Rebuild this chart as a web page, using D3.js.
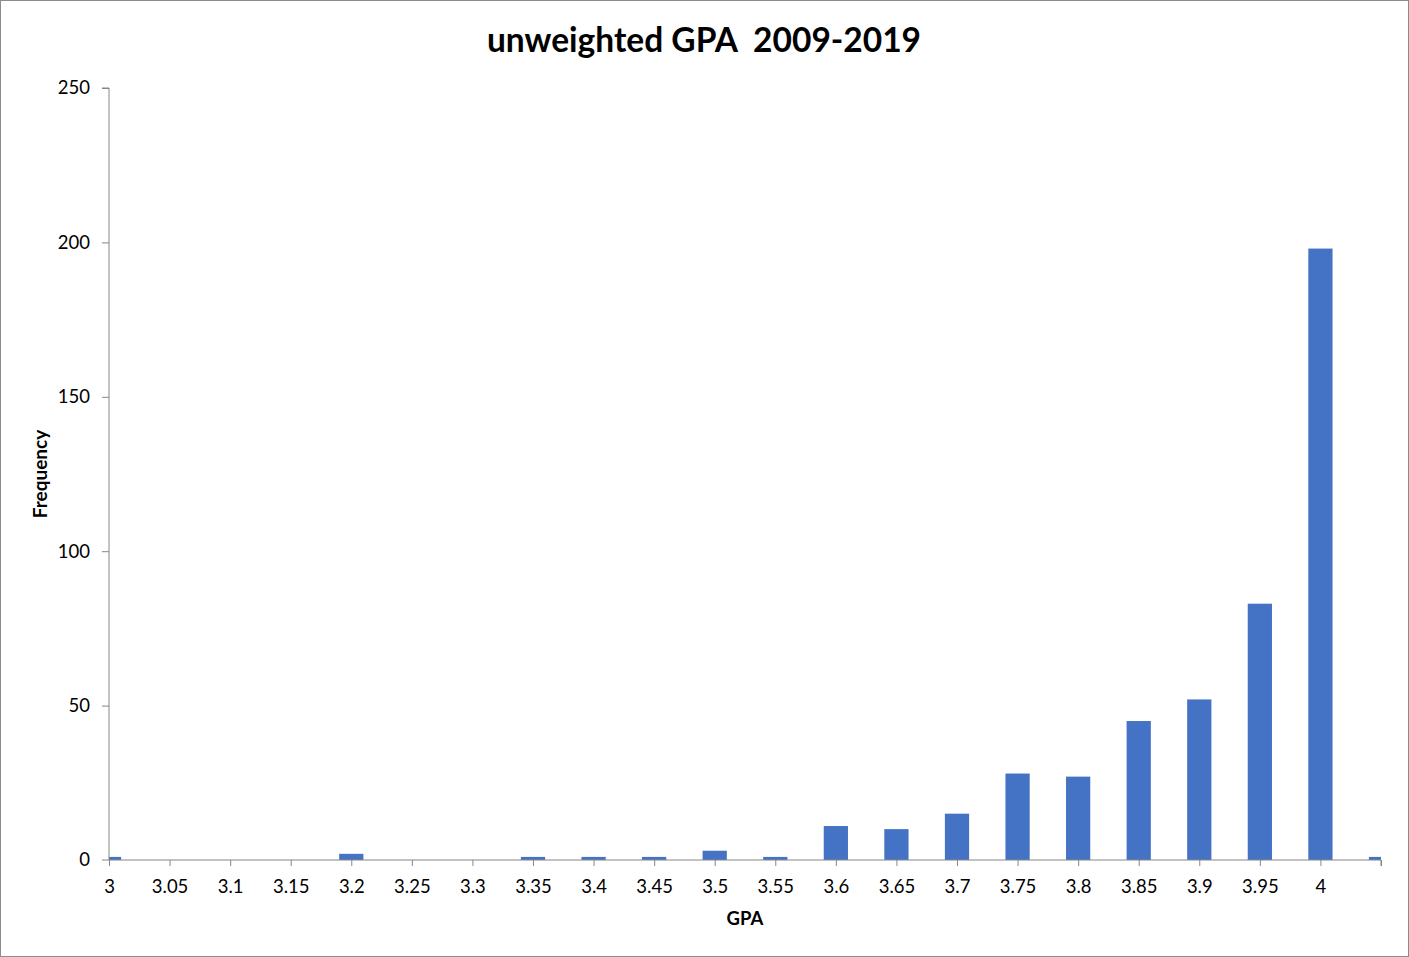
<!DOCTYPE html>
<html><head><meta charset="utf-8">
<script src="https://cdn.jsdelivr.net/npm/d3@7"></script>
<style>body{margin:0;background:#fff}svg{display:block}text{font-family:Lato,"Open Sans",sans-serif}</style>
</head><body><svg id="c" width="1409" height="957"></svg>
<script>
const categories = ["3","3.05","3.1","3.15","3.2","3.25","3.3","3.35","3.4","3.45","3.5","3.55","3.6","3.65","3.7","3.75","3.8","3.85","3.9","3.95","4","More"];
const tickLabels = ["3","3.05","3.1","3.15","3.2","3.25","3.3","3.35","3.4","3.45","3.5","3.55","3.6","3.65","3.7","3.75","3.8","3.85","3.9","3.95","4",""];
const frequency = [1,0,0,0,2,0,0,1,1,1,3,1,11,10,15,28,27,45,52,83,198,1];
const yTicks = [0,50,100,150,200,250];

const svg = d3.select("#c");
const W=1409,H=957;
svg.append("rect").attr("x",0.5).attr("y",0.5).attr("width",W-1).attr("height",H-1).attr("fill","#fff").attr("stroke","#8c8c8c");

const L=109,R=1381,T=88,B=860;
const x = d3.scalePoint().domain(categories).range([L,R]);
const y = d3.scaleLinear().domain([0,250]).range([B,T]);
const bw = x.step()*0.4;

svg.append("clipPath").attr("id","pc").append("rect").attr("x",L).attr("y",T-5).attr("width",R-L).attr("height",B-T+5);

svg.append("g").attr("clip-path","url(#pc)").selectAll("rect").data(categories).join("rect")
  .attr("x",d=>x(d)-bw/2).attr("width",bw)
  .attr("y",(d,i)=>y(frequency[i])).attr("height",(d,i)=>B-y(frequency[i]))
  .attr("fill","#4472c4");

// y axis
const ya = svg.append("g").attr("transform",`translate(${L},0)`)
  .call(d3.axisLeft(y).tickValues(yTicks).tickSize(7).tickPadding(12));
ya.select(".domain").attr("stroke","#868686").attr("d",`M-7,${T}H0V${B}`);
ya.selectAll(".tick line").attr("stroke","#868686");
ya.selectAll(".tick text").attr("font-size",18.5).attr("fill","#000").attr("font-family","Lato,sans-serif");
ya.selectAll(".tick").filter(d=>d===0).select("line").remove();

// x axis
const xa = svg.append("g").attr("transform",`translate(0,${B})`)
  .call(d3.axisBottom(x).tickFormat((d,i)=>tickLabels[i]).tickSize(6).tickPadding(14));
xa.select(".domain").attr("stroke","#868686").attr("d",`M${L-7},0H${R}V6`);
xa.selectAll(".tick line").attr("stroke","#868686");
xa.selectAll(".tick text").attr("font-size",18.5).attr("fill","#000").attr("font-family","Lato,sans-serif");

svg.append("text").attr("x",704).attr("y",52).attr("text-anchor","middle").attr("xml:space","preserve")
  .style("white-space","pre")
  .attr("font-size",33.5).attr("font-weight","bold").text("unweighted GPA  2009-2019");
svg.append("text").attr("x",745).attr("y",925).attr("text-anchor","middle")
  .attr("font-size",18.5).attr("font-weight","bold").text("GPA");
svg.append("text").attr("transform","translate(47,474) rotate(-90)").attr("text-anchor","middle")
  .attr("font-size",19).attr("font-weight","bold").text("Frequency");
</script></body></html>
